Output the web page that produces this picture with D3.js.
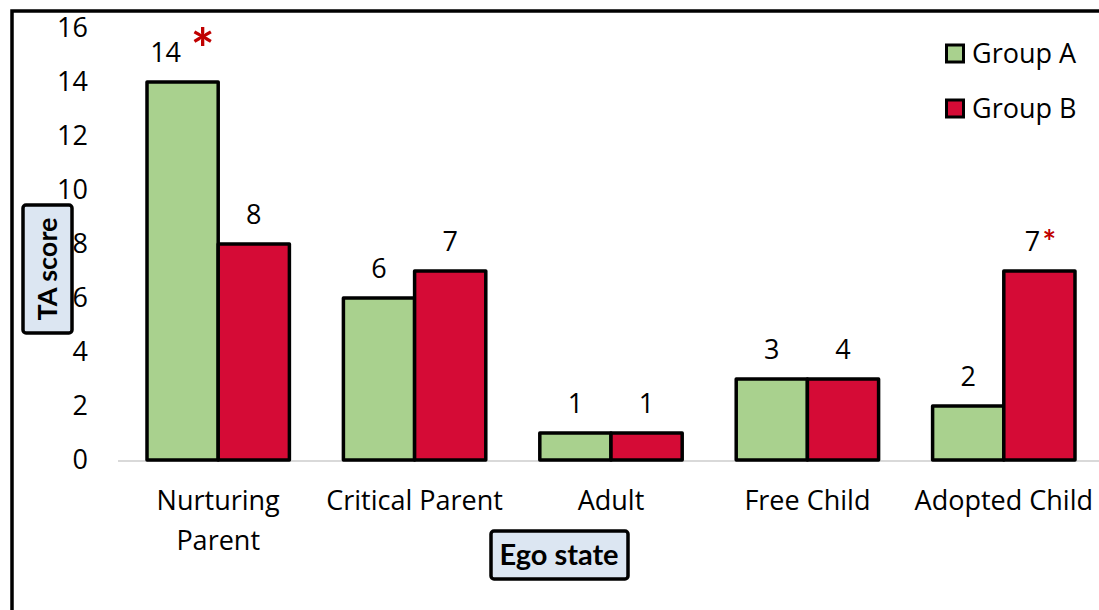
<!DOCTYPE html>
<html>
<head>
<meta charset="utf-8">
<script src="https://cdn.jsdelivr.net/npm/d3@7"></script>
<style>
  body { margin: 0; background: #fff; }
  text { font-family: "Open Sans", sans-serif; }
  .bold { font-family: Lato, sans-serif; }
</style>
</head>
<body>
<div id="my_dataviz"></div>
<script>
// data
var categories = ["Nurturing Parent", "Critical Parent", "Adult", "Free Child", "Adopted Child"];
var groups = ["Group A", "Group B"];
var groupA = [14, 6, 1, 3, 2];
var groupB = [8, 7, 1, 3, 7];
var labelsA = ["14", "6", "1", "3", "2"];
var labelsB = ["8", "7", "1", "4", "7"];
var yTicks = [0, 2, 4, 6, 8, 10, 12, 14, 16];

var W = 1099, H = 610;
var margin = {top: 28, right: -3, bottom: 150, left: 120},
    width = W - margin.left - margin.right,
    height = H - margin.top - margin.bottom;

var fs = "27px";

var svg = d3.select("#my_dataviz")
  .append("svg")
    .attr("width", W)
    .attr("height", H);

// outer frame (left + top edges only visible)
svg.append("path")
  .attr("d", "M12,610 L12,11 L1099,11")
  .attr("fill", "none")
  .attr("stroke", "#000")
  .attr("stroke-width", 3.5);

var g = svg.append("g")
  .attr("transform", "translate(" + margin.left + "," + margin.top + ")");

var x = d3.scaleBand()
  .domain(categories)
  .range([0, width])
  .paddingInner(0.275)
  .paddingOuter(0.1375);

var xSub = d3.scaleBand()
  .domain(groups)
  .range([0, x.bandwidth()]);

var y = d3.scaleLinear()
  .domain([0, 16])
  .range([height, 0]);

var color = d3.scaleOrdinal()
  .domain(groups)
  .range(["#a9d18e", "#d50b36"]);

// y axis tick labels
var yAxis = d3.axisLeft(y).tickValues(yTicks).tickSize(0).tickPadding(32);
var yg = g.append("g").call(yAxis);
yg.select(".domain").remove();
yg.selectAll("text")
  .style("font-family", "'Open Sans', sans-serif")
  .style("font-size", fs)
  .attr("fill", "#000");

// baseline
g.append("line")
  .attr("x1", -2).attr("x2", width + 5)
  .attr("y1", y(0) + 1).attr("y2", y(0) + 1)
  .attr("stroke", "#d9d9d9")
  .attr("stroke-width", 2);

// bars
var rows = categories.map(function(c, i) {
  return {cat: c, vals: [
    {g: "Group A", v: groupA[i], lab: labelsA[i], shift: c === "Nurturing Parent" ? -17 : 0},
    {g: "Group B", v: groupB[i], lab: labelsB[i], shift: c === "Adopted Child" ? -7 : 0}
  ]};
});

var cat = g.selectAll(".cat")
  .data(rows)
  .enter().append("g")
    .attr("class", "cat")
    .attr("transform", function(d) { return "translate(" + x(d.cat) + ",0)"; });

cat.selectAll("rect")
  .data(function(d) { return d.vals; })
  .enter().append("rect")
    .attr("x", function(d) { return xSub(d.g); })
    .attr("y", function(d) { return y(d.v); })
    .attr("width", xSub.bandwidth())
    .attr("height", function(d) { return y(0) - y(d.v); })
    .attr("fill", function(d) { return color(d.g); })
    .attr("stroke", "#000")
    .attr("stroke-width", 3.5)
    .attr("stroke-linejoin", "round");

cat.selectAll(".val")
  .data(function(d) { return d.vals; })
  .enter().append("text")
    .attr("class", "val")
    .attr("x", function(d) { return xSub(d.g) + xSub.bandwidth() / 2 + d.shift; })
    .attr("y", function(d) { return y(d.v) - 20; })
    .attr("text-anchor", "middle")
    .style("font-size", fs)
    .text(function(d) { return d.lab; });

// significance stars
g.append("text")
  .attr("class", "bold")
  .attr("x", x("Nurturing Parent") + xSub("Group A") + xSub.bandwidth() / 2 + 20)
  .attr("y", y(groupA[0]) - 13)
  .attr("text-anchor", "middle")
  .attr("fill", "#c00000")
  .style("font-size", "56px")
  .style("font-weight", "bold")
  .text("*");

g.append("text")
  .attr("class", "bold")
  .attr("x", x("Adopted Child") + xSub("Group B") + xSub.bandwidth() / 2 + 10)
  .attr("y", y(groupB[4]) - 17)
  .attr("text-anchor", "middle")
  .attr("fill", "#c00000")
  .style("font-size", "32px")
  .style("font-weight", "bold")
  .text("*");

// category labels
cat.append("text")
  .attr("x", x.bandwidth() / 2)
  .attr("y", height + 50)
  .attr("text-anchor", "middle")
  .style("font-size", fs)
  .each(function(d) {
    var lines = d.cat === "Nurturing Parent" ? ["Nurturing", "Parent"] : [d.cat];
    var t = d3.select(this);
    lines.forEach(function(l, i) {
      t.append("tspan").attr("x", x.bandwidth() / 2).attr("dy", i === 0 ? 0 : 40).text(l);
    });
  });

// legend
var legend = svg.append("g").attr("transform", "translate(945,45)");
groups.forEach(function(name, i) {
  var lg = legend.append("g").attr("transform", "translate(0," + (i * 55) + ")");
  lg.append("rect")
    .attr("x", 1.5).attr("y", 0)
    .attr("width", 17).attr("height", 17)
    .attr("fill", color(name))
    .attr("stroke", "#000")
    .attr("stroke-width", 3);
  lg.append("text")
    .attr("x", 27).attr("y", 18)
    .style("font-size", fs)
    .text(name);
});

// axis titles in boxes
svg.append("rect")
  .attr("x", 23).attr("y", 205)
  .attr("width", 49).attr("height", 128)
  .attr("rx", 3)
  .attr("fill", "#dce6f2")
  .attr("stroke", "#000")
  .attr("stroke-width", 3.5);

svg.append("text")
  .attr("class", "bold")
  .attr("transform", "translate(57,269) rotate(-90)")
  .attr("text-anchor", "middle")
  .style("font-size", "27px")
  .style("font-weight", "bold")
  .text("TA score");

svg.append("rect")
  .attr("x", 491).attr("y", 531)
  .attr("width", 137).attr("height", 48)
  .attr("rx", 3)
  .attr("fill", "#dce6f2")
  .attr("stroke", "#000")
  .attr("stroke-width", 3.5);

svg.append("text")
  .attr("class", "bold")
  .attr("x", 559).attr("y", 565)
  .attr("text-anchor", "middle")
  .style("font-size", "29px")
  .style("font-weight", "bold")
  .text("Ego state");
</script>
</body>
</html>
